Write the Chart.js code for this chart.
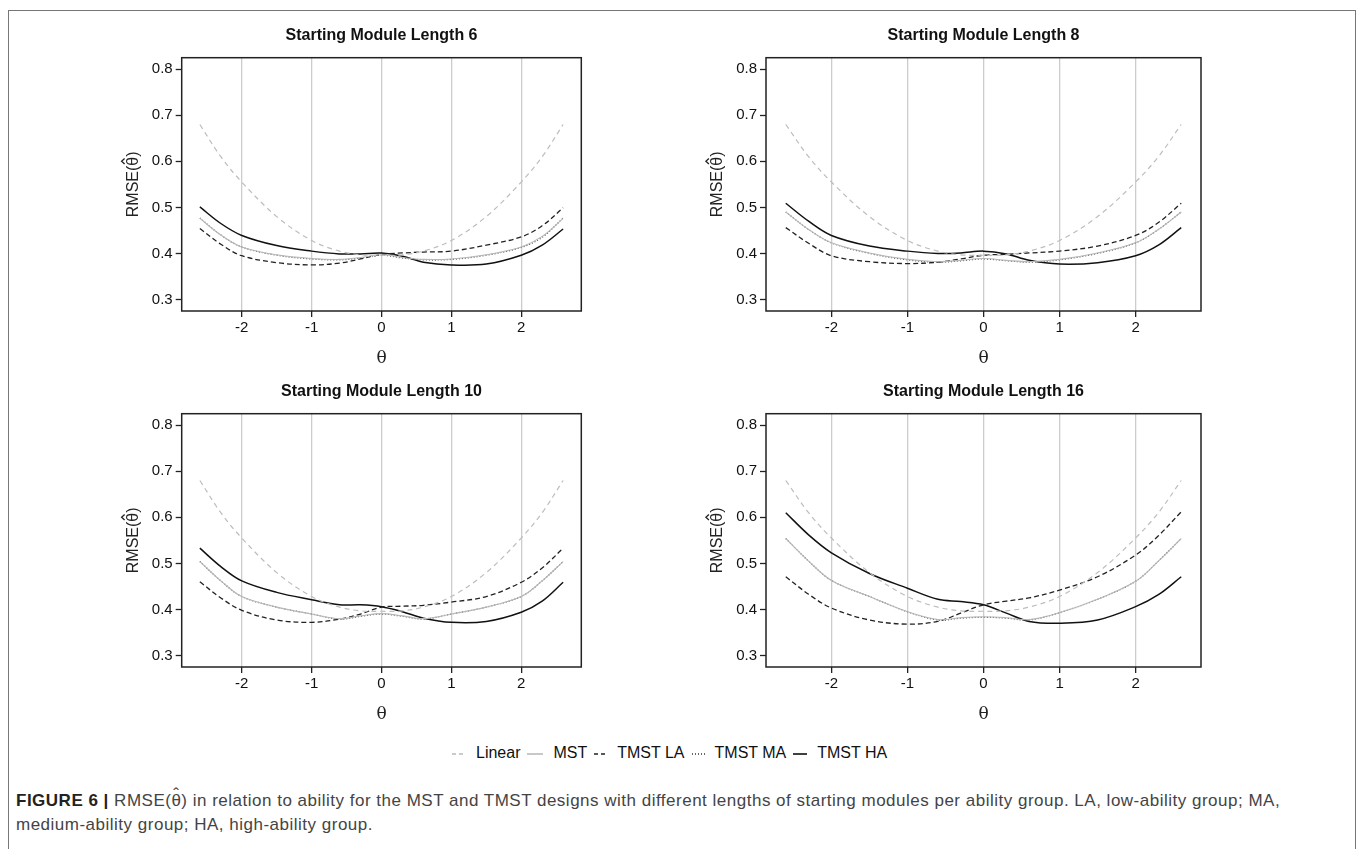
<!DOCTYPE html>
<html>
<head>
<meta charset="utf-8">
<script src="https://cdn.jsdelivr.net/npm/chart.js@4"></script>
<style>
  body { margin: 0; background: #fff; width: 1358px; height: 849px; overflow: hidden; position: relative; }
  .frame { position: absolute; left: 8px; top: 10px; width: 1346px; height: 900px; border: 1.5px solid #777; border-bottom: none; }
  canvas { position: absolute; }
  .legend { position: absolute; top: 744px; left: 445px; font: 16px "Liberation Sans", Arial, sans-serif; color: #111; white-space: nowrap; }
  .legend svg { vertical-align: middle; margin: 0 10px 0 7px; }
  .caption { position: absolute; left: 16px; top: 789px; font: 17px/24px "Liberation Sans", Arial, sans-serif; letter-spacing: 0.5px; color: #444; white-space: nowrap; }
  .caption b { color: #222; }
  .hat { position: relative; }
  .hat::after { content: 'ˆ'; position: absolute; left: 0; right: 0; text-align: center; top: -0.5em; }
</style>
</head>
<body>
<div class="frame"></div>
<canvas id="c6" width="533" height="350" style="left:115px;top:20px"></canvas>
<canvas id="c8" width="567" height="350" style="left:700px;top:20px"></canvas>
<canvas id="c10" width="533" height="350" style="left:115px;top:375.6px"></canvas>
<canvas id="c16" width="567" height="350" style="left:700px;top:375.6px"></canvas>

<div class="legend"><svg width="14" height="4"><line x1="0" y1="2" x2="14" y2="2" stroke="#bbb" stroke-width="1.3" stroke-dasharray="4,3"/></svg>Linear<svg width="16" height="4"><line x1="0" y1="2" x2="16" y2="2" stroke="#aaa" stroke-width="1.3"/></svg>MST<svg width="13" height="4"><line x1="0" y1="2" x2="13" y2="2" stroke="#222" stroke-width="1.3" stroke-dasharray="4,3"/></svg>TMST LA<svg width="13" height="4"><line x1="0" y1="2" x2="13" y2="2" stroke="#333" stroke-width="1.3" stroke-dasharray="1,2"/></svg>TMST MA<svg width="14" height="4"><line x1="0" y1="2" x2="14" y2="2" stroke="#111" stroke-width="1.6"/></svg>TMST HA</div>

<div class="caption"><b>FIGURE 6 |</b> RMSE(<span class="hat">θ</span>) in relation to ability for the MST and TMST designs with different lengths of starting modules per ability group. LA, low-ability group; MA,<br>medium-ability group; HA, high-ability group.</div>

<script>
// valeurs
const thetas = [-2.6, -2.3, -2, -1.5, -1, -0.6, -0.3, 0, 0.3, 0.6, 1, 1.5, 2, 2.3, 2.6];
const xTicks = [-2, -1, 0, 1, 2];
const yTicks = [0.3, 0.4, 0.5, 0.6, 0.7, 0.8];

const linear = [0.68, 0.61, 0.555, 0.48, 0.428, 0.405, 0.397, 0.396, 0.397, 0.405, 0.428, 0.48, 0.555, 0.61, 0.68];

// longueur 6
const mst6 = [0.476, 0.44, 0.414, 0.397, 0.389, 0.387, 0.391, 0.397, 0.391, 0.387, 0.388, 0.397, 0.414, 0.437, 0.476];
const la6 = [0.454, 0.42, 0.395, 0.38, 0.375, 0.379, 0.388, 0.398, 0.401, 0.403, 0.405, 0.418, 0.436, 0.46, 0.499];
const ma6 = [0.477, 0.44, 0.414, 0.396, 0.388, 0.386, 0.39, 0.396, 0.39, 0.386, 0.387, 0.396, 0.413, 0.435, 0.477];
const ha6 = [0.501, 0.465, 0.439, 0.417, 0.405, 0.399, 0.399, 0.401, 0.394, 0.381, 0.375, 0.377, 0.396, 0.418, 0.453];

// longueur 8
const mst8 = [0.49, 0.452, 0.423, 0.401, 0.387, 0.382, 0.385, 0.389, 0.385, 0.382, 0.387, 0.401, 0.423, 0.452, 0.49];
const la8 = [0.456, 0.422, 0.395, 0.382, 0.378, 0.381, 0.388, 0.396, 0.398, 0.401, 0.405, 0.416, 0.439, 0.467, 0.509];
const ma8 = [0.49, 0.452, 0.423, 0.40, 0.386, 0.381, 0.384, 0.388, 0.384, 0.381, 0.386, 0.40, 0.423, 0.452, 0.49];
const ha8 = [0.509, 0.47, 0.439, 0.416, 0.405, 0.40, 0.401, 0.405, 0.399, 0.385, 0.377, 0.38, 0.395, 0.418, 0.456];

// longueur 10
const mst10 = [0.504, 0.462, 0.428, 0.405, 0.39, 0.38, 0.386, 0.391, 0.386, 0.38, 0.39, 0.405, 0.428, 0.462, 0.504];
const la10 = [0.46, 0.425, 0.398, 0.377, 0.372, 0.379, 0.39, 0.405, 0.407, 0.409, 0.416, 0.428, 0.459, 0.49, 0.533];
const ma10 = [0.504, 0.462, 0.428, 0.405, 0.39, 0.379, 0.385, 0.39, 0.385, 0.379, 0.39, 0.405, 0.428, 0.462, 0.504];
const ha10 = [0.533, 0.493, 0.462, 0.437, 0.421, 0.41, 0.41, 0.406, 0.395, 0.381, 0.372, 0.374, 0.394, 0.418, 0.459];

// longueur 16
const mst16 = [0.554, 0.505, 0.463, 0.428, 0.395, 0.378, 0.382, 0.384, 0.382, 0.378, 0.393, 0.422, 0.461, 0.505, 0.554];
const la16 = [0.471, 0.433, 0.403, 0.377, 0.368, 0.374, 0.392, 0.41, 0.418, 0.425, 0.442, 0.471, 0.518, 0.56, 0.612];
const ma16 = [0.554, 0.505, 0.463, 0.428, 0.395, 0.377, 0.381, 0.383, 0.381, 0.377, 0.393, 0.422, 0.461, 0.505, 0.554];
const ha16 = [0.61, 0.562, 0.523, 0.478, 0.446, 0.422, 0.417, 0.41, 0.392, 0.374, 0.37, 0.377, 0.406, 0.432, 0.471];

const sansFont = '"Liberation Sans", Arial, sans-serif';

// cadre noir autour de la zone de tracé
const panelBox = {
    id: 'panelBox',
    afterDraw(chart) {
        const { ctx, chartArea: a } = chart;
        ctx.save();
        ctx.strokeStyle = '#222';
        ctx.lineWidth = 1.5;
        ctx.strokeRect(a.left, a.top, a.right - a.left, a.bottom - a.top);
        ctx.restore();
    }
};

// titre de l'axe y avec le chapeau sur theta
const yTitle = {
    id: 'yTitle',
    afterDraw(chart) {
        const { ctx, chartArea: a } = chart;
        const x = a.left - 48.5;
        const y = (a.top + a.bottom) / 2;
        ctx.save();
        ctx.translate(x, y);
        ctx.rotate(-Math.PI / 2);
        ctx.font = '16px ' + sansFont;
        ctx.fillStyle = '#222';
        ctx.textBaseline = 'middle';
        ctx.textAlign = 'left';
        const full = 'RMSE(θ)';
        const w = ctx.measureText(full).width;
        ctx.fillText(full, -w / 2, 0);
        const cx = -w / 2 + ctx.measureText('RMSE(').width + ctx.measureText('θ').width / 2;
        ctx.strokeStyle = '#222';
        ctx.lineWidth = 1.3;
        ctx.beginPath();
        ctx.moveTo(cx - 2.8, -8.6);
        ctx.lineTo(cx, -11.6);
        ctx.lineTo(cx + 2.8, -8.6);
        ctx.stroke();
        ctx.restore();
    }
};

function toPoints(values) {
    return thetas.map((t, i) => ({ x: t, y: values[i] }));
}

function makePanel(id, title, mst, la, ma, ha, yWidth) {
    const ctx = document.getElementById(id).getContext('2d');
    new Chart(ctx, {
        type: 'line',
        data: {
            datasets: [
                { label: 'Linear', data: toPoints(linear), borderColor: '#bdbdbd', borderWidth: 1.2, borderDash: [5, 4] },
                { label: 'MST', data: toPoints(mst), borderColor: '#b8b8b8', borderWidth: 1.1 },
                { label: 'TMST LA', data: toPoints(la), borderColor: '#222', borderWidth: 1.3, borderDash: [5, 3] },
                { label: 'TMST MA', data: toPoints(ma), borderColor: '#444', borderWidth: 1.2, borderDash: [1, 2] },
                { label: 'TMST HA', data: toPoints(ha), borderColor: '#111', borderWidth: 1.5 }
            ]
        },
        options: {
            responsive: false,
            animation: false,
            layout: { padding: 0 },
            elements: { point: { radius: 0 }, line: { tension: 0.35, fill: false } },
            plugins: {
                legend: { display: false },
                tooltip: { enabled: false },
                title: {
                    display: true,
                    text: title,
                    color: '#111',
                    font: { family: sansFont, size: 16, weight: 'bold', lineHeight: 1.2 },
                    padding: { top: 5.8, bottom: 12.7 }
                }
            },
            scales: {
                x: {
                    type: 'linear',
                    min: -2.86,
                    max: 2.86,
                    afterBuildTicks: s => { s.ticks = xTicks.map(v => ({ value: v })); },
                    afterFit: s => { s.height = 59; },
                    border: { display: false },
                    grid: { color: '#cccccc', lineWidth: 1.3, tickColor: '#222', tickLength: 6, tickWidth: 1.3 },
                    ticks: { color: '#111', font: { family: sansFont, size: 15 }, padding: 2, callback: v => String(v) },
                    title: { display: true, text: 'θ', color: '#222', font: { family: '"DejaVu Serif", "Liberation Serif", serif', size: 17 }, padding: { top: 0, bottom: 1.5 } }
                },
                y: {
                    type: 'linear',
                    min: 0.275,
                    max: 0.825,
                    afterBuildTicks: s => { s.ticks = yTicks.map(v => ({ value: v })); },
                    afterFit: s => { s.width = yWidth; },
                    border: { display: false },
                    grid: { drawOnChartArea: false, tickColor: '#222', tickLength: 6, tickWidth: 1.3 },
                    ticks: { color: '#111', font: { family: sansFont, size: 15 }, padding: 3, callback: v => v.toFixed(1) }
                },
                // axe vide à droite pour centrer le titre sur le panneau
                y2: {
                    type: 'linear',
                    position: 'right',
                    min: 0.275,
                    max: 0.825,
                    afterFit: s => { s.width = yWidth; },
                    border: { display: false },
                    grid: { display: false },
                    ticks: { display: false }
                }
            }
        },
        plugins: [panelBox, yTitle]
    });
}

makePanel('c6', 'Starting Module Length 6', mst6, la6, ma6, ha6, 66.7);
makePanel('c8', 'Starting Module Length 8', mst8, la8, ma8, ha8, 66);
makePanel('c10', 'Starting Module Length 10', mst10, la10, ma10, ha10, 66.7);
makePanel('c16', 'Starting Module Length 16', mst16, la16, ma16, ha16, 66);
</script>
</body>
</html>
